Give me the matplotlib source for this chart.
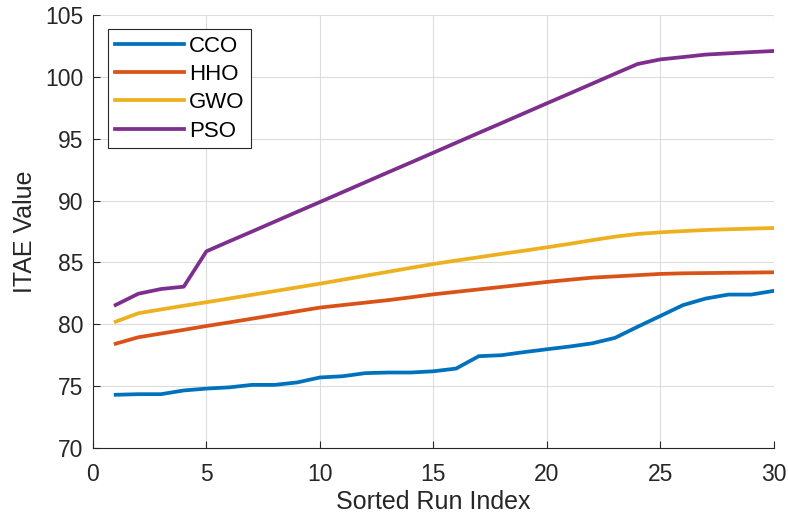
import numpy as np
import matplotlib
matplotlib.use('Agg')
import matplotlib.pyplot as plt

plt.rcParams['font.family'] = ['Liberation Sans', 'DejaVu Sans']

run_index = np.arange(1, 31)

cco = [74.3, 74.35, 74.35, 74.65, 74.8, 74.9, 75.1, 75.1, 75.3, 75.7,
       75.8, 76.05, 76.1, 76.1, 76.2, 76.42, 77.42, 77.5, 77.75, 77.98,
       78.2, 78.46, 78.9, 79.8, 80.67, 81.55, 82.08, 82.4, 82.4, 82.7]
hho = [78.43, 78.95, 79.25, 79.55, 79.86, 80.15, 80.45, 80.75, 81.05, 81.35,
       81.55, 81.75, 81.95, 82.18, 82.42, 82.62, 82.82, 83.02, 83.22, 83.42,
       83.6, 83.77, 83.87, 83.97, 84.07, 84.12, 84.14, 84.16, 84.18, 84.2]
gwo = [80.21, 80.89, 81.2, 81.5, 81.78, 82.08, 82.38, 82.68, 82.98, 83.28,
       83.6, 83.92, 84.24, 84.56, 84.87, 85.15, 85.42, 85.69, 85.95, 86.22,
       86.5, 86.8, 87.08, 87.3, 87.43, 87.53, 87.62, 87.68, 87.73, 87.78]
pso = [81.56, 82.47, 82.85, 83.04, 85.9, 86.7, 87.49, 88.29, 89.09, 89.88,
       90.68, 91.48, 92.28, 93.07, 93.87, 94.67, 95.47, 96.26, 97.06, 97.86,
       98.65, 99.45, 100.25, 101.04, 101.41, 101.6, 101.8, 101.9, 102.0, 102.09]

series = [('CCO', cco, '#0072BD'),
          ('HHO', hho, '#D95319'),
          ('GWO', gwo, '#EDB120'),
          ('PSO', pso, '#7E2F8E')]

fig = plt.figure(figsize=(7.88, 5.17), dpi=100)
ax = fig.add_axes([0.118, 0.1335, 0.864, 0.8375])

for name, vals, col in series:
    ax.plot(run_index, vals, color=col, lw=2.7, label=name)

ax.set_xlim(0, 30)
ax.set_ylim(70, 105)
ax.set_xticks(np.arange(0, 31, 5))
ax.set_yticks(np.arange(70, 106, 5))
ax.grid(True, color='#dcdcdc', lw=0.8)
ax.set_axisbelow(True)

for s in ['top', 'right']:
    ax.spines[s].set_visible(False)
for s in ['left', 'bottom']:
    ax.spines[s].set_color('#262626')
    ax.spines[s].set_linewidth(0.8)
ax.tick_params(direction='in', length=5, width=0.8, colors='#262626',
               labelsize=16.5)
ax.tick_params(axis='x', pad=11)
ax.tick_params(axis='y', pad=7)

ax.set_xlabel('Sorted Run Index', fontsize=18, color='#262626', labelpad=3)
ax.set_ylabel('ITAE Value', fontsize=18, color='#262626', labelpad=6)

leg = ax.legend(loc='upper left', bbox_to_anchor=(0.022, 0.968), fontsize=16,
                fancybox=False, edgecolor='#262626', framealpha=1,
                handlelength=3.1, handletextpad=0.25, borderpad=0.3,
                labelspacing=0.33, borderaxespad=0)
leg.get_frame().set_linewidth(0.8)

fig.savefig('out.png', dpi=100)
